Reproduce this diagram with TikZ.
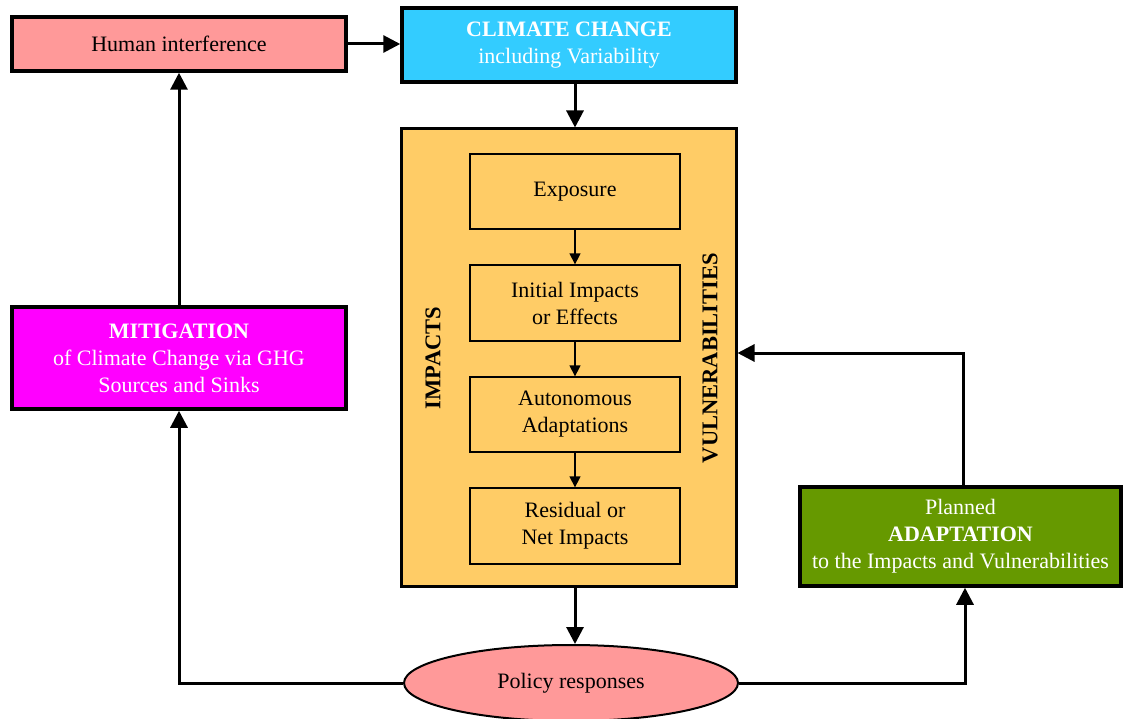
\documentclass[tikz,border=0pt]{standalone}
\usepackage{fontspec}
\setmainfont{Liberation Serif}
\usetikzlibrary{arrows.meta,shapes.geometric}
\definecolor{humanpink}{HTML}{FF9999}
\definecolor{climblue}{HTML}{33CCFF}
\definecolor{imporange}{HTML}{FFCC66}
\definecolor{mitmag}{HTML}{FF00FF}
\definecolor{adgreen}{HTML}{669900}
\begin{document}
\begin{tikzpicture}[x=1pt,y=-1pt,
  box/.style={draw=black,line width=3.5pt,rectangle,align=center,inner sep=1pt,
    font=\fontsize{22}{27}\selectfont},
  inbox/.style={draw=black,line width=1.3pt,rectangle,align=center,fill=imporange,
    minimum width=210pt,font=\fontsize{22}{27}\selectfont},
  bigarrow/.style={line width=3pt,-{Triangle[length=17pt,width=17pt]}},
  smallarrow/.style={line width=1.3pt,-{Triangle[length=11pt,width=11pt]}},
  side/.style={font=\bfseries\fontsize{22.5}{26}\selectfont,rotate=90}
]
\useasboundingbox (0,0) rectangle (1123,719);
\node[box,fill=humanpink,minimum width=334pt,minimum height=54pt] (human) at (179,44) {Human interference};
\node[box,fill=climblue,text=white,minimum width=334pt,minimum height=74pt] (climate) at (569,45)
  {\textbf{CLIMATE CHANGE}\\including Variability};
\node[box,fill=imporange,line width=3pt,minimum width=335pt,minimum height=457pt] (big) at (568.5,357.5) {};
\node[inbox,minimum height=75pt] (exposure) at (575,191.5) {Exposure};
\node[inbox,minimum height=76pt] (initial) at (575,303) {Initial Impacts\\or Effects};
\node[inbox,minimum height=75pt] (auton) at (575,414.5) {Autonomous\\Adaptations};
\node[inbox,minimum height=76pt] (resid) at (575,526) {Residual or\\Net Impacts};
\node[side] (impacts) at (433,358) {IMPACTS};
\node[side] (vuln) at (710,358) {VULNERABILITIES};
\node[box,fill=mitmag,text=white,minimum width=334pt,minimum height=102pt] (mitig) at (179,358)
  {\textbf{MITIGATION}\\of Climate Change via GHG\\Sources and Sinks};
\node[box,fill=adgreen,text=white,minimum width=321pt,minimum height=99pt] (adapt) at (960.5,536.5)
  {Planned\\\textbf{ADAPTATION}\\to the Impacts and Vulnerabilities};
\node[ellipse,draw=black,line width=2pt,fill=humanpink,minimum width=334pt,minimum height=76pt,
  font=\fontsize{22}{27}\selectfont] (policy) at (571,683) {Policy responses};
\coordinate (vk) at (963,353);
\coordinate (pa) at (965,586);
% connectors
\draw[bigarrow] (human.east) -- (human.east -| climate.west);
\draw[bigarrow] (exposure.north |- climate.south) -- (exposure.north |- big.north);
\draw[smallarrow] (exposure.south) -- (initial.north);
\draw[smallarrow] (initial.south) -- (auton.north);
\draw[smallarrow] (auton.south) -- (resid.north);
\draw[bigarrow] (exposure.south |- big.south) -- (exposure.south |- policy.north);
\draw[bigarrow] (mitig.north) -- (human.south);
\draw[bigarrow] (policy.west) -| (mitig.south);
\draw[bigarrow] (policy.east) -| (pa |- adapt.south);
\draw[bigarrow] (vk |- adapt.north) |- (vk -| big.east);
\end{tikzpicture}
\end{document}
